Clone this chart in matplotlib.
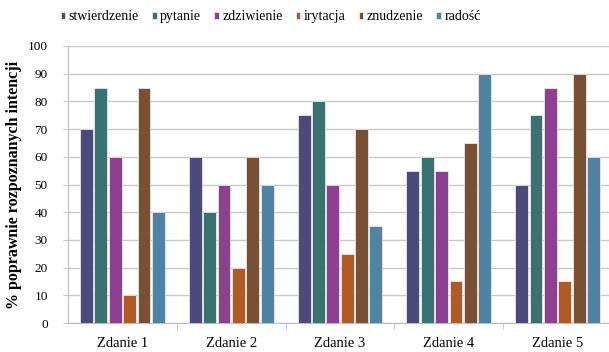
import matplotlib
matplotlib.use("Agg")
import matplotlib.pyplot as plt
import numpy as np

categories = ["Zdanie 1", "Zdanie 2", "Zdanie 3", "Zdanie 4", "Zdanie 5"]
series_names = ["stwierdzenie", "pytanie", "zdziwienie", "irytacja", "znudzenie", "radość"]
stwierdzenie = [70, 60, 75, 55, 50]
pytanie = [85, 40, 80, 60, 75]
zdziwienie = [60, 50, 50, 55, 85]
irytacja = [10, 20, 25, 15, 15]
znudzenie = [85, 60, 70, 65, 90]
radosc = [40, 50, 35, 90, 60]
colors = ["#4b4a7b", "#3a7272", "#8e4090", "#b15a26", "#7a5034", "#5082a3"]

plt.rcParams.update({
    "font.family": "serif",
    "font.serif": ["Liberation Serif"],
    "font.size": 10,
})

fig = plt.figure(figsize=(6.09, 3.52), dpi=100)
ax = fig.add_axes([68 / 609, 29 / 352, 544 / 609, 277 / 352])

values = [stwierdzenie, pytanie, zdziwienie, irytacja, znudzenie, radosc]
x = np.arange(len(categories))
step = 0.132
width = 0.118
for i, (name, vals) in enumerate(zip(series_names, values)):
    ax.bar(x + (i - 2.5) * step, vals, width, color=colors[i], label=name,
           edgecolor="#e8e8e8", linewidth=0.6, zorder=3)

ax.set_xlim(-0.5, len(categories) - 0.5)
ax.set_ylim(0, 100)
ax.set_yticks(range(0, 101, 10))
ax.set_xticks(x)
ax.set_xticklabels(categories, fontsize=10.5)
ax.set_xticks(np.arange(0.5, len(categories) - 0.5), minor=True)
ax.tick_params(axis="x", which="major", length=0, pad=10)
ax.tick_params(axis="x", which="minor", length=4, color="#bdbdbd")
ax.tick_params(axis="y", length=3.6, color="#c8c8c8", labelsize=9.5, pad=11)
ax.grid(axis="y", color="#c8c8c8", linewidth=1.0, zorder=0)
for s in ["top", "right"]:
    ax.spines[s].set_visible(False)
for s in ["left", "bottom"]:
    ax.spines[s].set_color("#bdbdbd")

ax.set_ylabel("% poprawnie rozpoznanych intencji", fontweight="bold", fontsize=11.5)
ax.yaxis.set_label_coords(-0.084, 0.5)

ax.legend(loc="center left", bbox_to_anchor=(-0.036, 1.105), ncol=6, frameon=False,
          handlelength=0.32, handleheight=0.32, handletextpad=0.25, columnspacing=0.95,
          fontsize=10)

fig.savefig("out.png", dpi=100)
